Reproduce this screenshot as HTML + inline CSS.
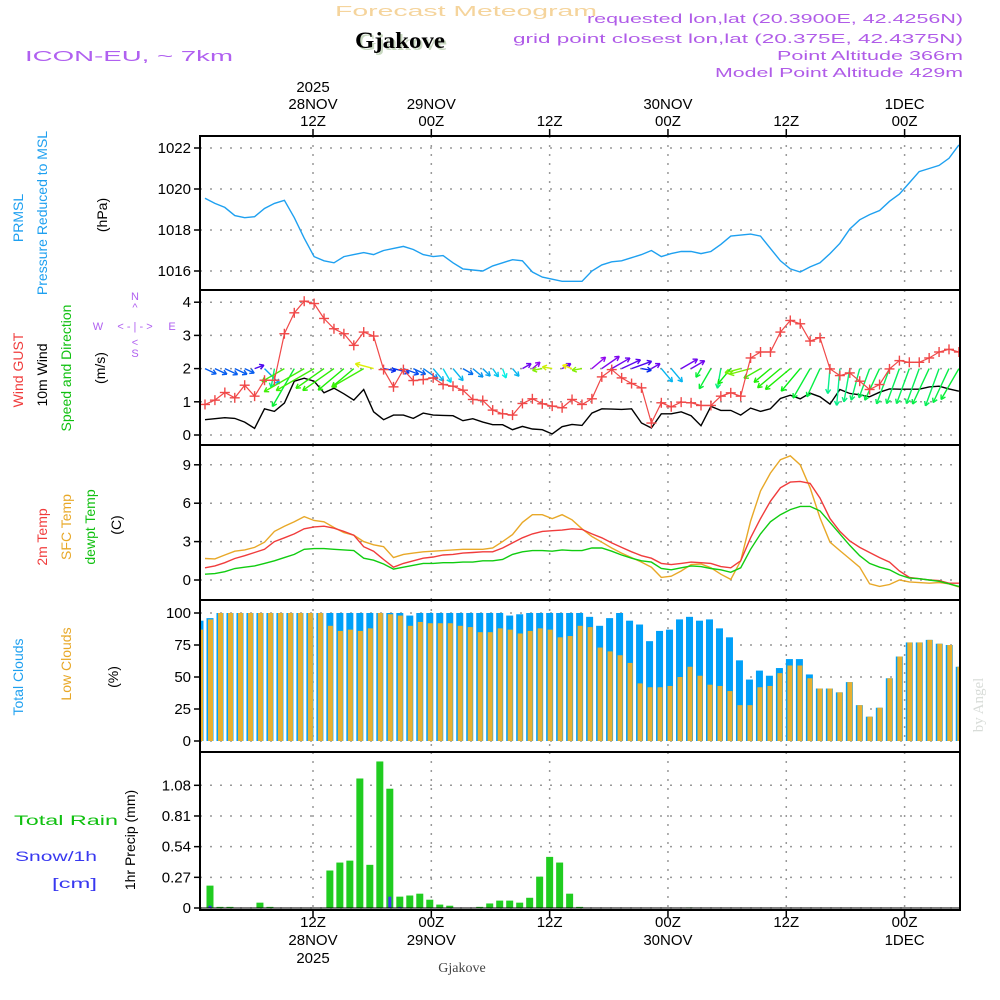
<!DOCTYPE html>
<html><head><meta charset="utf-8"><style>
html,body{margin:0;padding:0;background:#fff;}
svg{display:block;font-family:"Liberation Sans",sans-serif;}
</style></head><body>
<svg id="chart" width="1000" height="1000" viewBox="0 0 1000 1000" xmlns="http://www.w3.org/2000/svg">
<rect width="1000" height="1000" fill="#fff"/>
<text x="335" y="16" font-size="15" fill="#f5d49c" textLength="262" lengthAdjust="spacingAndGlyphs">Forecast Meteogram</text>
<text x="357" y="50" font-size="23" font-weight="bold" font-family="Liberation Serif,serif" fill="#c8d8c0" textLength="90" lengthAdjust="spacingAndGlyphs">Gjakove</text>
<text x="355" y="48" font-size="23" font-weight="bold" font-family="Liberation Serif,serif" fill="#000" textLength="90" lengthAdjust="spacingAndGlyphs">Gjakove</text>
<text x="25" y="61" font-size="15" fill="#b060f0" textLength="208" lengthAdjust="spacingAndGlyphs">ICON-EU, ~ 7km</text>
<g fill="#b05ce8" font-size="13" text-anchor="end">
<text x="963" y="23" textLength="376" lengthAdjust="spacingAndGlyphs">requested lon,lat (20.3900E, 42.4256N)</text>
<text x="963" y="43" textLength="450" lengthAdjust="spacingAndGlyphs">grid point closest lon,lat (20.375E, 42.4375N)</text>
<text x="963" y="60" textLength="186" lengthAdjust="spacingAndGlyphs">Point Altitude 366m</text>
<text x="963" y="77" textLength="248" lengthAdjust="spacingAndGlyphs">Model Point Altitude 429m</text>
</g>
<g font-size="14">
<text transform="translate(23,218) rotate(-90)" text-anchor="middle" fill="#1ea0f0">PRMSL</text>
<text transform="translate(47,213) rotate(-90)" text-anchor="middle" fill="#1ea0f0">Pressure Reduced to MSL</text>
<text transform="translate(107,215) rotate(-90)" text-anchor="middle" fill="#000">(hPa)</text>
<text transform="translate(23,370) rotate(-90)" text-anchor="middle" fill="#f03c3c">Wind GUST</text>
<text transform="translate(47,375) rotate(-90)" text-anchor="middle" fill="#000">10m Wind</text>
<text transform="translate(71,368) rotate(-90)" text-anchor="middle" fill="#10c010">Speed and Direction</text>
<text transform="translate(105,368) rotate(-90)" text-anchor="middle" fill="#000">(m/s)</text>
<text transform="translate(47,537) rotate(-90)" text-anchor="middle" fill="#f03c3c">2m Temp</text>
<text transform="translate(71,527) rotate(-90)" text-anchor="middle" fill="#e8a828">SFC Temp</text>
<text transform="translate(95,527) rotate(-90)" text-anchor="middle" fill="#10c010">dewpt Temp</text>
<text transform="translate(121,525) rotate(-90)" text-anchor="middle" fill="#000">(C)</text>
<text transform="translate(23,677) rotate(-90)" text-anchor="middle" fill="#1ea0f0">Total Clouds</text>
<text transform="translate(71,664) rotate(-90)" text-anchor="middle" fill="#e8a828">Low Clouds</text>
<text transform="translate(118,677) rotate(-90)" text-anchor="middle" fill="#000">(%)</text>
<text transform="translate(135,840) rotate(-90)" text-anchor="middle" fill="#000">1hr Precip (mm)</text>
<text x="14" y="825" font-size="14" fill="#10c010" textLength="104" lengthAdjust="spacingAndGlyphs">Total  Rain</text>
<text x="15" y="861" font-size="14" fill="#3838f0" textLength="82" lengthAdjust="spacingAndGlyphs">Snow/1h</text>
<text x="52" y="888" font-size="14" fill="#3838f0" textLength="45" lengthAdjust="spacingAndGlyphs">[cm]</text>
</g>
<g fill="#b060f0" font-size="11" text-anchor="middle">
<text x="135" y="300">N</text><text x="135" y="311">^</text><text x="98" y="330">W</text>
<text x="135" y="330">&lt; - | - &gt;</text><text x="172" y="330">E</text>
<text x="135" y="346">&lt;</text><text x="135" y="357">S</text>
</g>
<text transform="translate(983,705) rotate(-90)" text-anchor="middle" font-size="15" font-family="Liberation Serif,serif" fill="#d8dcd8">by Angel</text>
<text x="462" y="972" text-anchor="middle" font-size="14" font-family="Liberation Serif,serif" fill="#444">Gjakove</text>
<g id="plot"></g>
</svg>
<script>
const tickHours = [12, 24, 36, 48, 60, 72];
const tickTop = [["2025","28NOV","12Z"],["29NOV","00Z"],["12Z"],["30NOV","00Z"],["12Z"],["1DEC","00Z"]];
const tickBottom = [["12Z","28NOV","2025"],["00Z","29NOV"],["12Z"],["00Z","30NOV"],["12Z"],["00Z","1DEC"]];
const pressure = [1019.55,1019.3,1019.1,1018.7,1018.6,1018.65,1019.05,1019.3,1019.45,1018.6,1017.6,1016.7,1016.5,1016.4,1016.7,1016.8,1016.9,1016.8,1017.0,1017.1,1017.2,1017.05,1016.8,1016.7,1016.75,1016.4,1016.1,1016.05,1016.0,1016.25,1016.4,1016.55,1016.5,1015.95,1015.7,1015.6,1015.5,1015.5,1015.5,1016.0,1016.3,1016.45,1016.5,1016.65,1016.8,1017.0,1016.7,1016.85,1016.95,1016.95,1016.85,1016.95,1017.3,1017.7,1017.75,1017.8,1017.7,1017.1,1016.5,1016.1,1015.95,1016.2,1016.4,1016.85,1017.35,1018.05,1018.5,1018.75,1018.95,1019.4,1019.75,1020.3,1020.85,1021.0,1021.15,1021.5,1022.15];
const gust = [0.92,1.05,1.28,1.12,1.5,1.17,1.65,1.65,3.05,3.68,4.03,3.96,3.51,3.2,3.05,2.7,3.1,2.98,1.97,1.45,1.97,1.64,1.67,1.72,1.52,1.47,1.35,1.07,1.04,0.75,0.64,0.6,0.95,1.09,0.94,0.87,0.82,1.07,0.92,1.09,1.75,1.97,1.72,1.55,1.42,0.36,0.97,0.85,0.99,0.97,0.89,0.89,1.17,1.27,1.17,2.32,2.5,2.5,3.1,3.45,3.35,2.83,2.93,1.99,1.79,1.87,1.62,1.37,1.52,1.99,2.24,2.19,2.19,2.32,2.5,2.58,2.5];
const wind = [0.46,0.49,0.52,0.5,0.39,0.2,0.79,0.71,0.96,1.62,1.71,1.62,1.27,1.41,1.24,1.05,1.37,0.7,0.46,0.6,0.6,0.5,0.66,0.6,0.59,0.58,0.43,0.49,0.39,0.31,0.31,0.16,0.26,0.18,0.16,0.03,0.25,0.32,0.29,0.66,0.79,0.78,0.77,0.79,0.36,0.21,0.64,0.64,0.7,0.58,0.28,0.86,0.74,0.74,0.6,0.81,0.71,0.79,1.1,1.2,1.09,1.26,1.15,0.93,1.37,1.25,1.21,1.15,1.29,1.39,1.38,1.38,1.38,1.45,1.47,1.39,1.32];
const windDir = [25,25,25,25,25,-20,45,100,150,120,150,150,145,145,140,140,150,195,10,15,20,25,35,50,60,50,30,40,45,55,70,50,-30,-40,170,190,-30,200,170,-40,-35,-30,-25,-20,10,-30,50,50,-30,-30,120,120,100,130,165,165,150,140,140,140,130,120,115,95,95,100,105,110,115,110,110,110,110,115,110,115,120];
const temp2m = [0.95,1.1,1.35,1.68,1.9,2.15,2.4,3.0,3.3,3.6,4.0,4.15,4.2,4.05,3.8,3.5,2.6,2.25,1.6,1.0,1.3,1.5,1.7,1.8,1.95,2.0,2.1,2.15,2.2,2.2,2.5,2.9,3.3,3.6,3.8,3.85,3.9,4.0,3.95,3.6,3.3,2.9,2.55,2.2,1.9,1.7,1.3,1.2,1.3,1.4,1.35,1.3,1.05,0.95,1.5,3.3,4.8,6.15,7.2,7.65,7.7,7.55,6.4,4.8,3.8,3.05,2.55,2.15,1.75,1.4,0.7,0.2,0.1,0.0,-0.05,-0.25,-0.25];
const tempSfc = [1.68,1.65,1.95,2.25,2.35,2.55,2.95,3.8,4.2,4.55,4.95,4.65,4.55,4.1,3.7,3.5,3.0,2.75,2.6,1.75,2.0,2.1,2.2,2.25,2.3,2.35,2.4,2.4,2.4,2.5,3.0,3.55,4.5,5.1,5.1,4.8,5.1,4.7,4.0,3.4,2.95,2.5,2.1,1.75,1.4,1.0,0.2,0.3,0.7,1.2,1.25,0.95,0.45,0.05,1.5,4.6,6.95,8.35,9.4,9.7,9.0,7.2,4.85,2.95,2.3,1.65,1.0,-0.3,-0.5,-0.35,0.0,-0.15,-0.2,-0.25,-0.2,-0.3,-0.55];
const dewpt = [0.45,0.5,0.65,0.9,1.0,1.1,1.3,1.5,1.75,2.0,2.4,2.45,2.45,2.4,2.35,2.3,1.7,1.55,1.25,0.85,1.0,1.15,1.3,1.3,1.35,1.35,1.4,1.4,1.5,1.5,1.6,2.0,2.2,2.3,2.3,2.25,2.35,2.3,2.3,2.5,2.5,2.25,1.95,1.7,1.5,1.4,0.9,0.8,0.95,1.1,1.05,0.9,0.8,0.6,0.95,2.4,3.6,4.55,5.1,5.5,5.75,5.75,5.4,4.5,3.6,2.7,1.9,1.3,1.0,0.8,0.4,0.15,0.1,0.0,-0.1,-0.3,-0.5];
const totalClouds = [94,96,100,100,100,100,100,100,100,100,100,100,100,100,100,100,100,100,100,100,100,98,100,100,100,100,100,100,100,100,100,98,99,100,100,100,100,100,100,97,90,96,100,94,91,78,86,87,95,97,94,95,88,81,63,48,55,51,57,64,64,52,41,41,38,46,28,19,26,49,66,77,77,79,76,75,58];
const lowClouds = [87,95,100,100,100,100,100,100,100,100,100,100,100,90,86,87,86,88,100,99,98,90,93,92,92,92,90,89,85,85,88,87,84,86,88,87,81,82,90,89,73,70,67,61,45,42,42,43,50,58,51,44,43,39,28,28,42,43,53,59,59,49,41,41,38,46,28,19,26,49,66,77,77,79,76,75,58];
const rain = [0,0.197,0.01,0.01,0,0,0.047,0.01,0,0,0,0,0,0.33,0.40,0.417,1.14,0.38,1.29,1.05,0.10,0.11,0.126,0.073,0.03,0.02,0.003,0,0.01,0.04,0.065,0.065,0.047,0.09,0.276,0.45,0.40,0.126,0.01,0,0,0,0,0,0,0,0,0,0,0.005,0,0,0,0,0,0,0,0,0,0,0,0,0,0,0,0,0,0,0,0,0,0,0,0,0,0,0];
const snow = [0,0.02,0,0,0,0,0,0,0,0,0,0,0,0,0,0,0,0,0,0.1,0.01];
const pressureTicks = [1016,1018,1020,1022];
const windTicks = [0,1,2,3,4];
const tempTicks = [0,3,6,9];
const cloudTicks = [0,25,50,75,100];
const rainTicks = [0,0.27,0.54,0.81,1.08];

const NS = "http://www.w3.org/2000/svg";
const plot = document.getElementById("plot");
const X0 = 200, X1 = 960;
const xT = h => 313 + (h - 12) * 9.86;
const xL = i => 205 + i * 9.92;
const xB = i => 200 + i * 9.99;
const yP = v => 271 - (v - 1016) * 20.5;
const yW = v => 435 - v * 33.2;
const yT = v => 580 - v * 12.8;
const yC = v => 741 - v * 1.28;
const yR = v => 908 - v * 113.6;
const panels = [
  {name:"pressure", top:136, bot:290, ticks:pressureTicks, y:yP},
  {name:"wind", top:290, bot:445, ticks:windTicks, y:yW},
  {name:"temp", top:445, bot:600, ticks:tempTicks, y:yT},
  {name:"clouds", top:600, bot:752, ticks:cloudTicks, y:yC},
  {name:"precip", top:752, bot:910, ticks:rainTicks, y:yR}
];
function el(tag, attrs, parent) {
  const e = document.createElementNS(NS, tag);
  for (const k in attrs) e.setAttribute(k, attrs[k]);
  (parent || plot).appendChild(e);
  return e;
}
const defs = el("defs", {});
const cp = el("clipPath", {id:"clipPlot"}, defs);
el("rect", {x:X0, y:136, width:X1 - X0, height:774}, cp);

panels.forEach(p => {
  const g = el("g", {});
  
  
  tickHours.forEach(h => {
    const l = el("line", {x1:xT(h), x2:xT(h), y1:p.top, y2:p.bot, stroke:"#999", "stroke-width":1.5, "stroke-dasharray":"2,7"}, g);
    
    
  });
  p.ticks.forEach(v => {
    const yy = p.y(v);
    const l = el("line", {x1:X0, x2:X1, y1:yy, y2:yy, stroke:"#999", "stroke-width":1.5, "stroke-dasharray":"2,8"}, g);
    
    
    const tk = el("line", {x1:X0 - 6, x2:X0, y1:yy, y2:yy, stroke:"#000", "stroke-width":1.5}, g);
    
    
    const lab = p.name === "precip" ? (v === 0 ? "0" : v.toFixed(2)) : String(v);
    const t = el("text", {x:X0 - 9, y:yy + 5, "text-anchor":"end", "font-size":15, fill:"#000"}, g);
    t.textContent = lab;
    
    
  });
});

const gc = el("g", {"clip-path":"url(#clipPlot)"});


totalClouds.forEach((v, i) => {
  const r = el("rect", {x:xB(i) - 3.5, y:yC(v), width:7, height:yC(0) - yC(v), fill:"#00a0f8"}, gc);
  
  
});
lowClouds.forEach((v, i) => {
  const r = el("rect", {x:xB(i) - 2, y:yC(v), width:5, height:yC(0) - yC(v), fill:"#e8b030"}, gc);
  
  
});
const gr = el("g", {"clip-path":"url(#clipPlot)"});


rain.forEach((v, i) => {
  if (v <= 0) return;
  const r = el("rect", {x:xB(i) - 3.5, y:yR(v), width:7, height:yR(0) - yR(v), fill:"#20cc20"}, gr);
  
  
});
snow.forEach((v, i) => {
  if (v <= 0) return;
  const r = el("rect", {x:xB(i) - 1.5, y:yR(v), width:3, height:yR(0) - yR(v), fill:"#3838f0"}, gr);
  
  
});
const base = el("line", {x1:X0, x2:X1, y1:yR(0), y2:yR(0), stroke:"#000", "stroke-width":1}, gr);



function line(arr, yf, color, name, w) {
  const pts = arr.map((v, i) => xL(i).toFixed(1) + "," + yf(v).toFixed(1)).join(" ");
  const pl = el("polyline", {points:pts, fill:"none", stroke:color, "stroke-width":w || 1.4, "clip-path":"url(#clipPlot)"});
  
  
  return pl;
}
line(pressure, yP, "#1ea0f0", "pressure-line");
line(tempSfc, yT, "#e8a828", "sfc-temp-line");
line(temp2m, yT, "#f03c3c", "temp-2m-line");
line(dewpt, yT, "#10cc10", "dewpt-line");
line(wind, yW, "#000", "wind-speed-line");

const ga = el("g", {"clip-path":"url(#clipPlot)"});


windDir.forEach((a, i) => {
  const hue = 240 - a * 0.9;
  const col = "hsl(" + ((hue % 360) + 360) % 360 + ",95%,48%)";
  const len = Math.max(10, wind[i] * 27);
  const x0 = xL(i), y0 = yW(2);
  const rad = a * Math.PI / 180;
  const x1 = x0 + Math.cos(rad) * len, y1 = y0 + Math.sin(rad) * len;
  const g = el("g", {stroke:col, "stroke-width":1.4, fill:"none"}, ga);
  
  
  el("line", {x1:x0, y1:y0, x2:x1, y2:y1}, g);
  [150, -150].forEach(d => {
    const r2 = rad + d * Math.PI / 180;
    el("line", {x1:x1, y1:y1, x2:x1 + Math.cos(r2) * 5, y2:y1 + Math.sin(r2) * 5}, g);
  });
});
line(gust, yW, "#f04848", "wind-gust-line", 1.2);
const gg = el("g", {stroke:"#f04848", "stroke-width":1.4, "clip-path":"url(#clipPlot)"});


gust.forEach((v, i) => {
  const x = xL(i), y = yW(v);
  el("line", {x1:x - 5, x2:x + 5, y1:y, y2:y}, gg);
  el("line", {x1:x, x2:x, y1:y - 5, y2:y + 5}, gg);
});

panels.forEach(p => {
  const r = el("rect", {x:X0, y:p.top, width:X1 - X0, height:p.bot - p.top, fill:"none", stroke:"#000", "stroke-width":2});
  
  
});
tickHours.forEach((h, k) => {
  const x = xT(h);
  const t1 = el("line", {x1:x, x2:x, y1:129, y2:136, stroke:"#000", "stroke-width":1.5});
  
  
  const t2 = el("line", {x1:x, x2:x, y1:910, y2:917, stroke:"#000", "stroke-width":1.5});
  
  
  const top = tickTop[k];
  top.forEach((s, j) => {
    const t = el("text", {x:x, y:126 - (top.length - 1 - j) * 17, "text-anchor":"middle", "font-size":15, fill:"#000"});
    t.textContent = s;
    
    
  });
  tickBottom[k].forEach((s, j) => {
    const t = el("text", {x:x, y:927 + j * 18, "text-anchor":"middle", "font-size":15, fill:"#000"});
    t.textContent = s;
    
    
  });
});
</script>
</body></html>
